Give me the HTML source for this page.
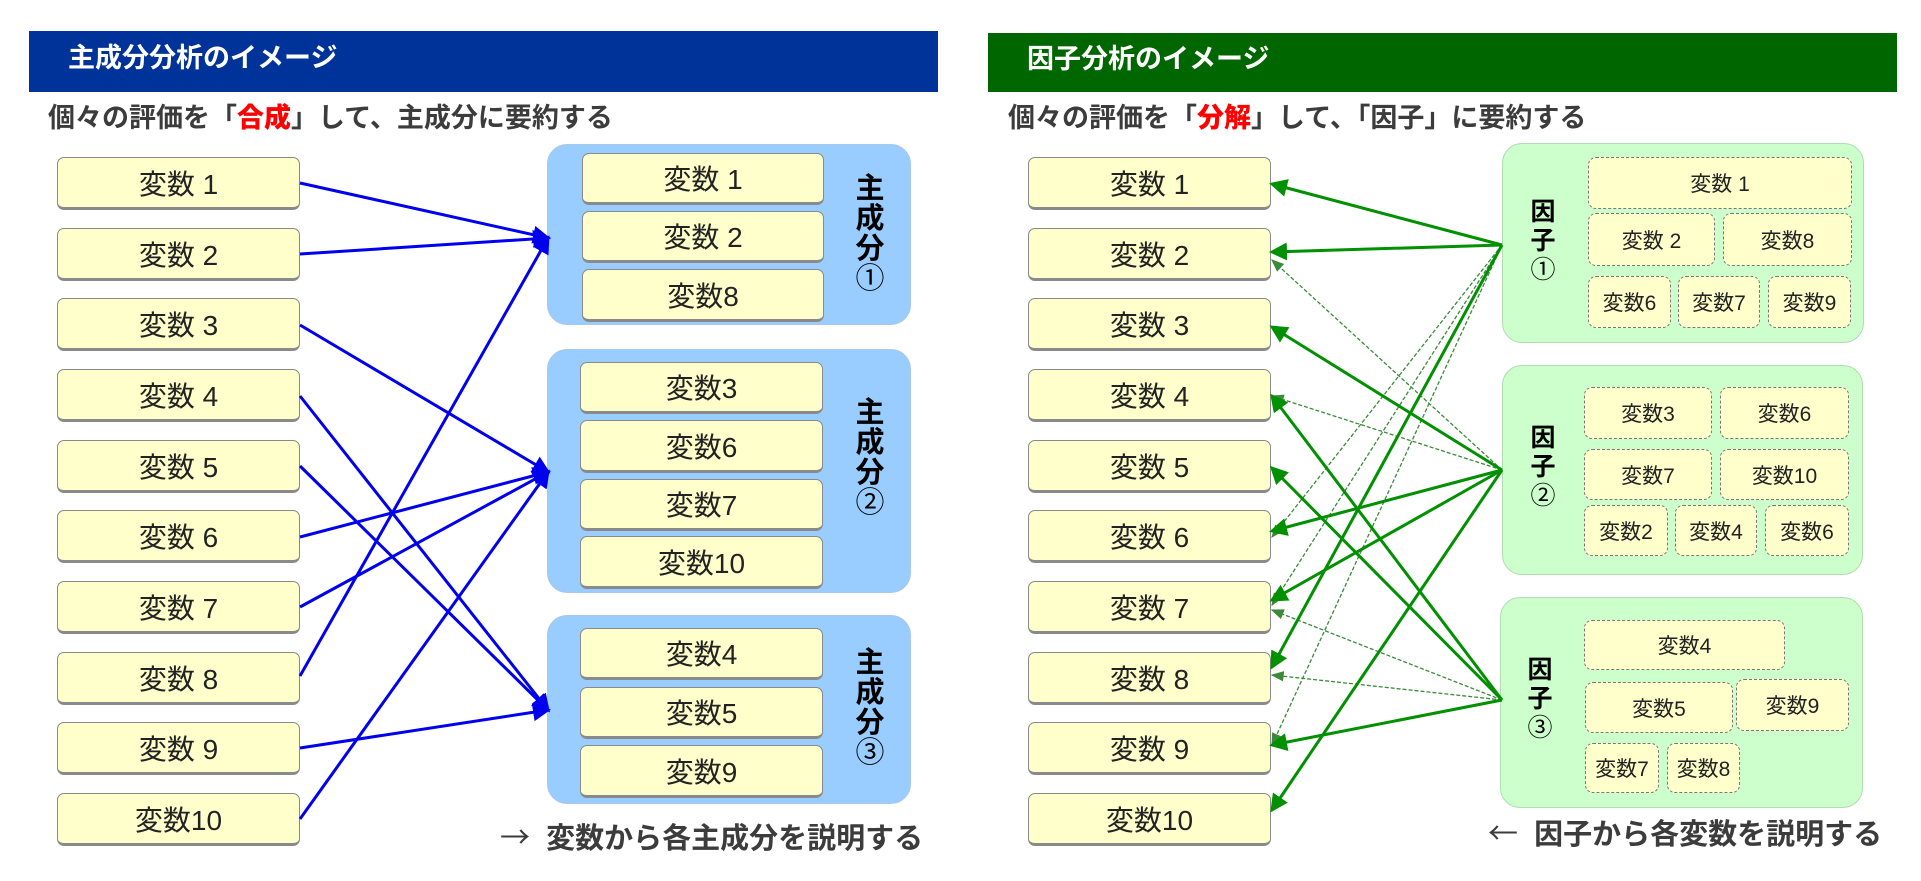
<!DOCTYPE html>
<html><head><meta charset="utf-8"><style>
*{margin:0;padding:0;box-sizing:border-box}
body{width:1921px;height:881px;background:#fff;position:relative;overflow:hidden;font-family:"Liberation Sans","Noto Sans CJK JP",sans-serif}
.a{position:absolute}
.hdr{position:absolute;color:#fff;font-weight:bold;font-size:27px;line-height:27px;padding-left:39px;padding-top:14px}
.sub{position:absolute;font-weight:bold;font-size:27px;line-height:30px;color:#3c3c3c;white-space:nowrap}
.sub b{color:#ff0000}
.vb{position:absolute;background:#ffffcc;border:1.5px solid #8a8a8a;border-bottom:3px solid #8a8a8a;border-radius:7px;font-size:28px;color:#222;display:flex;align-items:center;justify-content:center;white-space:nowrap}
.grp{position:absolute;border-radius:20px}
.blue{background:#99ccff;border:1px solid #aac8e8}
.green{background:#ccffcc;border:1px solid #b0dcb0}
.db{position:absolute;background:#ffffcc;border:1.5px dashed #777;border-radius:8px;font-size:21px;color:#222;display:flex;align-items:center;justify-content:center;white-space:nowrap}
.lbl{position:absolute;font-weight:bold;text-align:center;color:#000}
.foot{position:absolute;font-weight:bold;font-size:29px;line-height:30px;color:#3c3c3c;white-space:nowrap}
.arr{font-family:"Noto Sans CJK JP",sans-serif;font-weight:normal;font-size:30px}
</style></head><body>

<div class="hdr" style="left:29px;top:31px;width:909px;height:61px;background:#003399">主成分分析のイメージ</div>
<div class="hdr" style="left:988px;top:33px;width:909px;height:59px;background:#006600;padding-top:13px">因子分析のイメージ</div>

<div class="sub" style="left:48px;top:103px">個々の評価を「<b>合成</b>」して、主成分に要約する</div>
<div class="sub" style="left:1008px;top:103px">個々の評価を「<b>分解</b>」して、「因子」に要約する</div>

<div class="grp blue" style="left:547px;top:144px;width:364px;height:181px"></div>
<div class="grp blue" style="left:547px;top:349px;width:364px;height:244px"></div>
<div class="grp blue" style="left:547px;top:615px;width:364px;height:189px"></div>

<div class="vb" style="left:582px;top:153px;width:242px;height:52px">変数 1</div>
<div class="vb" style="left:582px;top:211px;width:242px;height:52px">変数 2</div>
<div class="vb" style="left:582px;top:269px;width:242px;height:53px">変数8</div>

<div class="vb" style="left:580px;top:362px;width:243px;height:52px">変数3</div>
<div class="vb" style="left:580px;top:420px;width:243px;height:53px">変数6</div>
<div class="vb" style="left:580px;top:479px;width:243px;height:52px">変数7</div>
<div class="vb" style="left:580px;top:536px;width:243px;height:53px">変数10</div>

<div class="vb" style="left:580px;top:628px;width:243px;height:52px">変数4</div>
<div class="vb" style="left:580px;top:687px;width:243px;height:52px">変数5</div>
<div class="vb" style="left:580px;top:745px;width:243px;height:53px">変数9</div>

<div class="lbl" style="left:850px;top:174px;width:40px;font-size:29px;line-height:30px">主<br>成<br>分<br><span style="font-weight:normal">①</span></div>
<div class="lbl" style="left:850px;top:398px;width:40px;font-size:29px;line-height:30px">主<br>成<br>分<br><span style="font-weight:normal">②</span></div>
<div class="lbl" style="left:850px;top:648px;width:40px;font-size:29px;line-height:30px">主<br>成<br>分<br><span style="font-weight:normal">③</span></div>

<div class="grp green" style="left:1502px;top:143px;width:362px;height:200px"></div>
<div class="grp green" style="left:1502px;top:365px;width:361px;height:210px"></div>
<div class="grp green" style="left:1500px;top:597px;width:363px;height:211px"></div>

<div class="db" style="left:1588px;top:157px;width:264px;height:52px">変数 1</div>
<div class="db" style="left:1588px;top:213px;width:127px;height:53px">変数 2</div>
<div class="db" style="left:1723px;top:213px;width:129px;height:53px">変数8</div>
<div class="db" style="left:1588px;top:276px;width:83px;height:52px">変数6</div>
<div class="db" style="left:1678px;top:276px;width:82px;height:52px">変数7</div>
<div class="db" style="left:1768px;top:276px;width:83px;height:52px">変数9</div>

<div class="db" style="left:1584px;top:387px;width:128px;height:52px">変数3</div>
<div class="db" style="left:1720px;top:387px;width:129px;height:52px">変数6</div>
<div class="db" style="left:1584px;top:449px;width:128px;height:51px">変数7</div>
<div class="db" style="left:1720px;top:449px;width:129px;height:51px">変数10</div>
<div class="db" style="left:1584px;top:505px;width:84px;height:51px">変数2</div>
<div class="db" style="left:1675px;top:505px;width:82px;height:51px">変数4</div>
<div class="db" style="left:1765px;top:505px;width:84px;height:51px">変数6</div>

<div class="db" style="left:1584px;top:620px;width:201px;height:50px">変数4</div>
<div class="db" style="left:1585px;top:682px;width:148px;height:51px">変数5</div>
<div class="db" style="left:1736px;top:679px;width:113px;height:52px">変数9</div>
<div class="db" style="left:1585px;top:743px;width:74px;height:50px">変数7</div>
<div class="db" style="left:1667px;top:743px;width:73px;height:50px">変数8</div>

<div class="lbl" style="left:1525px;top:198px;width:36px;font-size:25px;line-height:29px">因<br>子<br><span style="font-weight:normal">①</span></div>
<div class="lbl" style="left:1525px;top:424px;width:36px;font-size:25px;line-height:29px">因<br>子<br><span style="font-weight:normal">②</span></div>
<div class="lbl" style="left:1522px;top:656px;width:36px;font-size:25px;line-height:29px">因<br>子<br><span style="font-weight:normal">③</span></div>

<div class="vb" style="left:57px;top:157px;width:243px;height:53px">変数 1</div>
<div class="vb" style="left:57px;top:228px;width:243px;height:53px">変数 2</div>
<div class="vb" style="left:57px;top:298px;width:243px;height:53px">変数 3</div>
<div class="vb" style="left:57px;top:369px;width:243px;height:53px">変数 4</div>
<div class="vb" style="left:57px;top:440px;width:243px;height:53px">変数 5</div>
<div class="vb" style="left:57px;top:510px;width:243px;height:53px">変数 6</div>
<div class="vb" style="left:57px;top:581px;width:243px;height:53px">変数 7</div>
<div class="vb" style="left:57px;top:652px;width:243px;height:53px">変数 8</div>
<div class="vb" style="left:57px;top:722px;width:243px;height:53px">変数 9</div>
<div class="vb" style="left:57px;top:793px;width:243px;height:53px">変数10</div>

<div class="vb" style="left:1028px;top:157px;width:243px;height:53px">変数 1</div>
<div class="vb" style="left:1028px;top:228px;width:243px;height:53px">変数 2</div>
<div class="vb" style="left:1028px;top:298px;width:243px;height:53px">変数 3</div>
<div class="vb" style="left:1028px;top:369px;width:243px;height:53px">変数 4</div>
<div class="vb" style="left:1028px;top:440px;width:243px;height:53px">変数 5</div>
<div class="vb" style="left:1028px;top:510px;width:243px;height:53px">変数 6</div>
<div class="vb" style="left:1028px;top:581px;width:243px;height:53px">変数 7</div>
<div class="vb" style="left:1028px;top:652px;width:243px;height:53px">変数 8</div>
<div class="vb" style="left:1028px;top:722px;width:243px;height:53px">変数 9</div>
<div class="vb" style="left:1028px;top:793px;width:243px;height:53px">変数10</div>

<svg class="a" style="left:0;top:0" width="1921" height="881" viewBox="0 0 1921 881">
<defs>
<marker id="ab" markerWidth="6" markerHeight="6" refX="5" refY="3" orient="auto" markerUnits="strokeWidth"><path d="M0,0 L6,3 L0,6 z" fill="#0000ee"/></marker>
<marker id="ag" markerWidth="6" markerHeight="6" refX="5" refY="3" orient="auto" markerUnits="strokeWidth"><path d="M0,0 L6,3 L0,6 z" fill="#009000"/></marker>
<marker id="agd" markerWidth="10" markerHeight="10" refX="9" refY="5" orient="auto" markerUnits="strokeWidth"><path d="M0,1 L10,5 L0,9 z" fill="#3a8a3a"/></marker>
</defs>
<g stroke="#0000ee" stroke-width="3" fill="none" marker-end="url(#ab)">
<line x1="300" y1="183" x2="548" y2="238"/>
<line x1="300" y1="254" x2="548" y2="238"/>
<line x1="300" y1="676" x2="548" y2="238"/>
<line x1="300" y1="325" x2="548" y2="472"/>
<line x1="300" y1="537" x2="548" y2="472"/>
<line x1="300" y1="607" x2="548" y2="472"/>
<line x1="300" y1="819" x2="548" y2="472"/>
<line x1="300" y1="396" x2="548" y2="710"/>
<line x1="300" y1="466" x2="548" y2="710"/>
<line x1="300" y1="748" x2="548" y2="710"/>
</g>
<g stroke="#3a8a3a" stroke-width="1.3" stroke-dasharray="4 2" fill="none" marker-end="url(#agd)">
<line x1="1502" y1="245" x2="1272" y2="537"/>
<line x1="1502" y1="245" x2="1272" y2="605"/>
<line x1="1502" y1="245" x2="1272" y2="745"/>
<line x1="1502" y1="470" x2="1272" y2="260"/>
<line x1="1502" y1="470" x2="1272" y2="396"/>
<line x1="1502" y1="700" x2="1272" y2="610"/>
<line x1="1502" y1="700" x2="1272" y2="675"/>
</g>
<g stroke="#009000" stroke-width="3" fill="none" marker-end="url(#ag)">
<line x1="1502" y1="245" x2="1272" y2="184"/>
<line x1="1502" y1="245" x2="1272" y2="252"/>
<line x1="1502" y1="245" x2="1272" y2="667"/>
<line x1="1502" y1="470" x2="1272" y2="327"/>
<line x1="1502" y1="470" x2="1272" y2="531"/>
<line x1="1502" y1="470" x2="1272" y2="600"/>
<line x1="1502" y1="470" x2="1272" y2="810"/>
<line x1="1502" y1="700" x2="1272" y2="396"/>
<line x1="1502" y1="700" x2="1272" y2="468"/>
<line x1="1502" y1="700" x2="1272" y2="745"/>
</g>
</svg>

<div class="foot" style="left:500px;top:820px"><span class="arr">→</span>&nbsp;&nbsp;変数から各主成分を説明する</div>
<div class="foot" style="left:1488px;top:816px"><span class="arr">←</span>&nbsp;&nbsp;因子から各変数を説明する</div>
</body></html>
